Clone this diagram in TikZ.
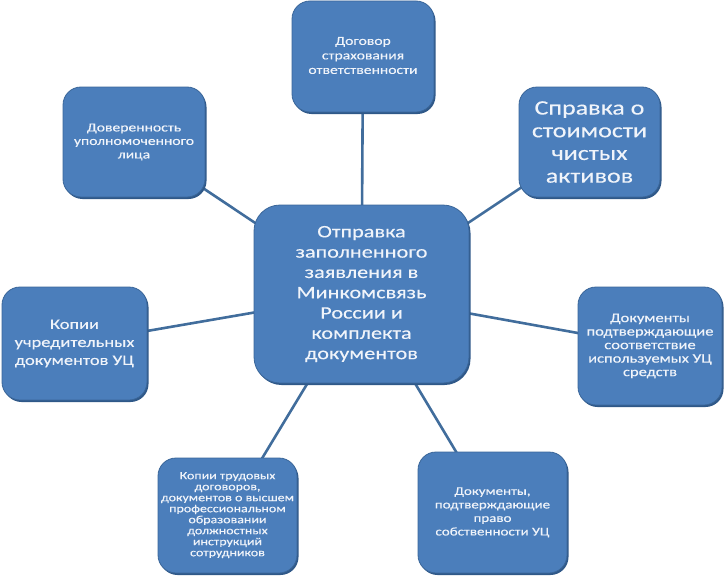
\documentclass[tikz,border=0pt]{standalone}
\usepackage{fontspec}
\setmainfont{Carlito}[FakeStretch=1.27,FakeBold=0.3]
\usetikzlibrary{shadows}
\pgfdeclarelayer{bg}
\pgfsetlayers{bg,main}
\definecolor{boxblue}{HTML}{4B7EBB}
\definecolor{boxedge}{HTML}{3A6699}
\definecolor{boxdark}{HTML}{2F5888}
\definecolor{linkblue}{HTML}{416D9C}
\definecolor{txt}{HTML}{F0F4FA}
\newcommand{\lifted}[2]{\raisebox{#1}{\begin{tabular}{@{}c@{}}#2\end{tabular}}}
\tikzset{
  box/.style={draw=boxedge, line width=0.8pt, fill=boxblue, rounded corners=18pt,
    text=txt, align=center, inner sep=2pt,
    drop shadow={shadow xshift=1.5pt, shadow yshift=-2pt, fill=boxdark, opacity=1}},
  link/.style={draw=linkblue, line width=2.6pt},
}
\begin{document}
\begin{tikzpicture}[x=1pt,y=-1pt]
\useasboundingbox (0,0) rectangle (725,578);

\node[box, rounded corners=26pt, minimum width=215pt, minimum height=178pt,
  font=\fontsize{17.5}{20.3}\selectfont] (C) at (361.5,294)
  {Отправка\\заполненного\\заявления в\\Минкомсвязь\\России и\\комплекта\\документов};

\node[box, minimum width=142pt, minimum height=111pt,
  font=\fontsize{12.3}{14.5}\selectfont] (T) at (363,56.5)
  {\lifted{4pt}{Договор\\страхования\\ответственности}};

\node[box, minimum width=142pt, minimum height=110pt,
  font=\fontsize{12.3}{13.5}\selectfont] (TL) at (134,142)
  {Доверенность\\уполномоченного\\лица};

\node[box, minimum width=141pt, minimum height=110pt,
  font=\fontsize{20.5}{22.7}\selectfont] (TR) at (589.5,142)
  {Справка о\\стоимости\\чистых\\активов};

\node[box, minimum width=145pt, minimum height=113pt,
  font=\fontsize{14.5}{18}\selectfont] (L) at (74.5,343.5)
  {Копии\\учредительных\\документов УЦ};

\node[box, minimum width=144pt, minimum height=118pt,
  font=\fontsize{13}{13.5}\selectfont] (R) at (650,346)
  {Документы\\подтверждающие\\соответствие\\используемых УЦ\\средств};

\node[box, minimum width=139pt, minimum height=115pt,
  font=\fontsize{11}{11}\selectfont] (BL) at (227.5,515.5)
  {\lifted{9pt}{Копии трудовых\\договоров,\\документов о высшем\\профессиональном\\образовании\\должностных\\инструкций\\сотрудников}};

\node[box, minimum width=149pt, minimum height=121pt,
  font=\fontsize{11.8}{13.5}\selectfont] (BR) at (492.5,512.5)
  {\lifted{5pt}{Документы,\\подтверждающие\\право\\собственности УЦ}};

\begin{pgfonlayer}{bg}
  \foreach \n in {T,TL,TR,L,R,BL,BR}
    \draw[link] (C.center) -- (\n.center);
\end{pgfonlayer}
\end{tikzpicture}
\end{document}
